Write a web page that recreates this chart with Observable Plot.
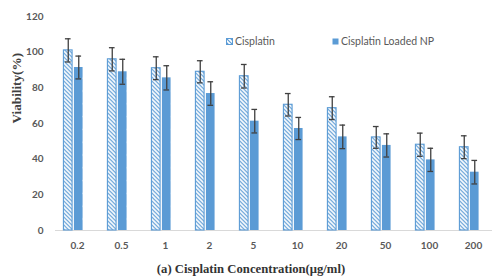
<!DOCTYPE html>
<html>
<head>
<meta charset="utf-8">
<script src="https://cdn.jsdelivr.net/npm/d3@7"></script>
<script src="https://cdn.jsdelivr.net/npm/@observablehq/plot@0.6"></script>
<style>
  html, body { margin: 0; padding: 0; background: #fff; }
  #wrap { position: relative; width: 492px; height: 277px; overflow: hidden; }
  .leg { position: absolute; top: 35px; font-family: Lato, "Open Sans", sans-serif; font-size: 10.5px; color: #595959; display: flex; align-items: center; white-space: nowrap; }
  .leg svg { margin-right: 2px; }
</style>
</head>
<body>
<div id="wrap"></div>
<script>
const categories = ["0.2", "0.5", "1", "2", "5", "10", "20", "50", "100", "200"];
const seriesNames = ["Cisplatin", "Cisplatin Loaded NP"];
const cisplatin = [101, 96, 91, 89, 86.5, 70.5, 68.6, 52.2, 48.1, 46.7];
const cisplatinErr = [6.5, 6.5, 6.4, 6.2, 6.6, 6.3, 6.4, 6.1, 6.5, 6.4];
const loaded = [91.4, 89, 85.6, 76.8, 61.3, 57.2, 52.5, 47.7, 39.6, 32.7];
const loadedErr = [6.4, 7, 6.8, 6.6, 6.6, 6.2, 6.6, 6.5, 6.5, 6.6];
const yTicks = [0, 20, 40, 60, 80, 100, 120];
const xTitle = "(a) Cisplatin Concentration(μg/ml)";
const yTitle = "Viability(%)";

const blue = "#5b9bd5";
const cisRows = categories.map((c, i) => ({cat: c, value: cisplatin[i], err: cisplatinErr[i], series: seriesNames[0]}));
const npRows = categories.map((c, i) => ({cat: c, value: loaded[i], err: loadedErr[i], series: seriesNames[1]}));

const W = 492, H = 277;
const step = 44.33;
const firstCenter = 72;
const xRange = [firstCenter - step / 2, firstCenter - step / 2 + step * categories.length];
const barW = 9, off = 5.25, capW = 6;
const inset = (step - barW) / 2;
const capInset = (step - capW) / 2;

const errMarks = (rows, dx) => [
  Plot.ruleX(rows, {x: "cat", y1: d => d.value - d.err, y2: d => d.value + d.err, dx, stroke: "#404040", strokeWidth: 1.3}),
  Plot.tickY(rows, {x: "cat", y: d => d.value + d.err, dx, insetLeft: capInset, insetRight: capInset, stroke: "#404040", strokeWidth: 1.3}),
  Plot.tickY(rows, {x: "cat", y: d => d.value - d.err, dx, insetLeft: capInset, insetRight: capInset, stroke: "#404040", strokeWidth: 1.3})
];

const chart = Plot.plot({
  width: W,
  height: H,
  marginLeft: 55,
  marginRight: 0,
  marginTop: 16,
  marginBottom: 47,
  style: {background: "#fff", overflow: "visible"},
  x: {type: "band", domain: categories, range: xRange, padding: 0},
  y: {domain: [0, 120]},
  marks: [
    Plot.ruleY([0], {stroke: "#d9d9d9", strokeWidth: 1}),
    Plot.barY(cisRows, {x: "cat", y: "value", dx: -off, insetLeft: inset, insetRight: inset, fill: "url(#hatchCis)", stroke: blue, strokeWidth: 1.1}),
    Plot.barY(npRows, {x: "cat", y: "value", dx: off, insetLeft: inset, insetRight: inset, fill: "url(#dotsNP)"}),
    ...errMarks(cisRows, -off),
    ...errMarks(npRows, off),
    Plot.axisY({ticks: yTicks, tickSize: 0, tickPadding: 12, label: null, fontSize: 10, fontWeight: "bold", fill: "#595959", fontFamily: "Lato, 'Open Sans', sans-serif"}),
    Plot.axisX({tickSize: 0, tickPadding: 11, label: null, dx: 4, fontSize: 10, fontWeight: "bold", fill: "#595959", fontFamily: "Lato, 'Open Sans', sans-serif"}),
    Plot.text([xTitle], {frameAnchor: "bottom", dy: 38, dx: -23, lineAnchor: "middle", fontFamily: "'Liberation Serif', 'DejaVu Serif', serif", fontWeight: "bold", fontSize: 12.7, fill: "#333"}),
    Plot.text([yTitle], {frameAnchor: "left", dx: -39, rotate: -90, lineAnchor: "middle", fontFamily: "'Liberation Serif', 'DejaVu Serif', serif", fontWeight: "bold", fontSize: 13.2, fill: "#404040"})
  ]
});

// patterns
const xs = chart.scale("x");
const npCenter0 = xs.apply(categories[0]) + xs.bandwidth / 2 + off;
const svg = d3.select(chart);
const defs = svg.insert("defs", ":first-child");
const hatch = defs.append("pattern").attr("id", "hatchCis").attr("patternUnits", "userSpaceOnUse").attr("width", 4).attr("height", 4);
hatch.append("rect").attr("width", 4).attr("height", 4).attr("fill", "#fff");
hatch.append("path").attr("d", "M-1,-1 L5,5 M-1,3 L1,5 M3,-1 L5,1").attr("stroke", blue).attr("stroke-width", 1.2);
const dots = defs.append("pattern").attr("id", "dotsNP").attr("patternUnits", "userSpaceOnUse")
  .attr("width", step).attr("height", 12.8).attr("x", npCenter0 - step / 2).attr("y", 230 - 11 - 6.4);
dots.append("rect").attr("width", step).attr("height", 12.8).attr("fill", blue);
dots.append("circle").attr("cx", step / 2).attr("cy", 6.4).attr("r", 0.9).attr("fill", "#fff");

const wrap = document.getElementById("wrap");
wrap.appendChild(chart);

function swatch(fill, stroke) {
  return `<svg width="7" height="7" style="display:block"><rect x="0.5" y="0.5" width="6" height="6" fill="${fill}" ${stroke ? `stroke="${stroke}"` : ""}/></svg>`;
}
const l1 = document.createElement("div");
l1.className = "leg"; l1.style.left = "226px";
l1.innerHTML = swatch("url(#hatchCis)", blue) + `<span>${seriesNames[0]}</span>`;
const l2 = document.createElement("div");
l2.className = "leg"; l2.style.left = "332px";
l2.innerHTML = swatch(blue, null) + `<span>${seriesNames[1]}</span>`;
wrap.appendChild(l1);
wrap.appendChild(l2);
</script>
</body>
</html>
